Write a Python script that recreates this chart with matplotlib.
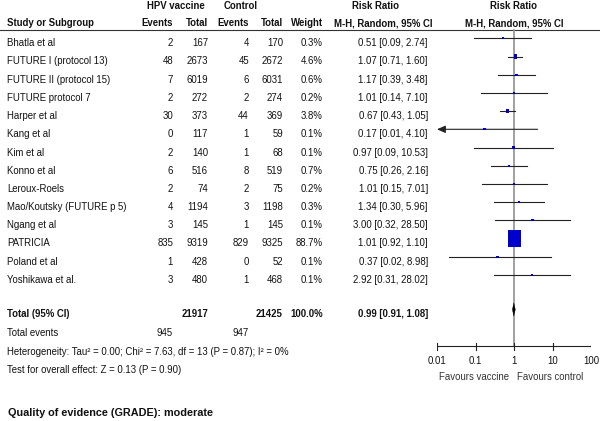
import numpy as np
import matplotlib
matplotlib.use("Agg")
import matplotlib.pyplot as plt
from matplotlib.patches import Rectangle, Polygon

plt.rcParams["font.family"] = ["Liberation Sans", "DejaVu Sans"]

studies = [
    "Bhatla et al", "FUTURE I (protocol 13)", "FUTURE II (protocol 15)",
    "FUTURE protocol 7", "Harper et al", "Kang et al", "Kim et al",
    "Konno et al", "Leroux-Roels", "Mao/Koutsky (FUTURE p 5)", "Ngang et al",
    "PATRICIA", "Poland et al", "Yoshikawa et al.",
]
vac_events = [2, 48, 7, 2, 30, 0, 2, 6, 2, 4, 3, 835, 1, 3]
vac_total = [167, 2673, 6019, 272, 373, 117, 140, 516, 74, 1194, 145, 9319, 428, 480]
ctl_events = [4, 45, 6, 2, 44, 1, 1, 8, 2, 3, 1, 829, 0, 1]
ctl_total = [170, 2672, 6031, 274, 369, 59, 68, 519, 75, 1198, 145, 9325, 52, 468]
weights = [0.3, 4.6, 0.6, 0.2, 3.8, 0.1, 0.1, 0.7, 0.2, 0.3, 0.1, 88.7, 0.1, 0.1]
rr = [0.51, 1.07, 1.17, 1.01, 0.67, 0.17, 0.97, 0.75, 1.01, 1.34, 3.00, 1.01, 0.37, 2.92]
rr_lo = [0.09, 0.71, 0.39, 0.14, 0.43, 0.01, 0.09, 0.26, 0.15, 0.30, 0.32, 0.92, 0.02, 0.31]
rr_hi = [2.74, 1.60, 3.48, 7.10, 1.05, 4.10, 10.53, 2.16, 7.01, 5.96, 28.50, 1.10, 8.98, 28.02]

total_vac, total_ctl = 21917, 21425
total_weight = 100.0
events_vac, events_ctl = 945, 947
pooled, pooled_lo, pooled_hi = 0.99, 0.91, 1.08
ticks = [0.01, 0.1, 1, 10, 100]
tick_labels = ["0.01", "0.1", "1", "10", "100"]

W, H = 600, 421
fig = plt.figure(figsize=(6, 4.21), dpi=100)
ax = fig.add_axes([0, 0, 1, 1])
ax.set_xlim(0, W)
ax.set_ylim(H, 0)
ax.axis("off")

# forest panel, log scale, shares the pixel y axis
x0, x1 = 437, 591
fax = fig.add_axes([x0 / W, 0, (x1 - x0) / W, 1])
fax.set_xscale("log")
fax.set_xlim(0.01, 100)
fax.set_ylim(H, 0)
fax.axis("off")
dec = (x1 - x0) / 4.0  # px per decade

fs = 6.9
tc = "#111111"
col_ev1, col_tot1, col_ev2, col_tot2, col_w, col_rr = 173, 208, 249, 283, 323, 428

# headers
ax.text(176, 6, "HPV vaccine", ha="center", va="center", fontsize=fs, weight="bold", color=tc)
ax.text(241, 6, "Control", ha="center", va="center", fontsize=fs, weight="bold", color=tc)
ax.text(376, 6, "Risk Ratio", ha="center", va="center", fontsize=fs, weight="bold", color=tc)
ax.text(514, 6, "Risk Ratio", ha="center", va="center", fontsize=fs, weight="bold", color=tc)
hy = 23
ax.text(7, hy, "Study or Subgroup", ha="left", va="center", fontsize=fs, weight="bold", color=tc)
for x, s in [(col_ev1, "Events"), (col_tot1, "Total"), (col_ev2, "Events"),
             (col_tot2, "Total"), (col_w, "Weight")]:
    ax.text(x, hy, s, ha="right", va="center", fontsize=fs, weight="bold", color=tc)
ax.text(383, hy, "M-H, Random, 95% CI", ha="center", va="center", fontsize=fs, weight="bold", color=tc)
ax.text(514, hy, "M-H, Random, 95% CI", ha="center", va="center", fontsize=fs, weight="bold", color=tc)
ax.plot([0, W], [29.5, 29.5], color="#333333", lw=0.8)

# null line
fax.plot([1, 1], [29.5, 346], color="#999999", lw=1.3, zorder=1)

row_y = 43.3 + 18.2 * np.arange(len(studies))
mark_dy = -5
for i, name in enumerate(studies):
    y = row_y[i]
    ax.text(7, y, name, ha="left", va="center", fontsize=fs, color=tc)
    ax.text(col_ev1, y, str(vac_events[i]), ha="right", va="center", fontsize=fs, color=tc)
    ax.text(col_tot1, y, str(vac_total[i]), ha="right", va="center", fontsize=fs, color=tc)
    ax.text(col_ev2, y, str(ctl_events[i]), ha="right", va="center", fontsize=fs, color=tc)
    ax.text(col_tot2, y, str(ctl_total[i]), ha="right", va="center", fontsize=fs, color=tc)
    ax.text(col_w, y, f"{weights[i]:.1f}%", ha="right", va="center", fontsize=fs, color=tc)
    ax.text(col_rr, y, f"{rr[i]:.2f} [{rr_lo[i]:.2f}, {rr_hi[i]:.2f}]",
            ha="right", va="center", fontsize=fs, color=tc)

    my = y + mark_dy
    if rr_lo[i] <= 0.01:
        fax.annotate("", xy=(0.01, my), xytext=(rr_hi[i], my), annotation_clip=False,
                     arrowprops=dict(arrowstyle="-|>,head_length=0.5,head_width=0.22",
                                     color="#222222", lw=0.8, shrinkA=0, shrinkB=0))
    else:
        fax.plot([rr_lo[i], rr_hi[i]], [my, my], color="#222222", lw=0.8, zorder=2)
    wpx = max(2.3, 1.38 * np.sqrt(weights[i]))
    hpx = max(2.3, 1.91 * np.sqrt(weights[i]))
    left = rr[i] * 10 ** (-wpx / 2 / dec)
    right = rr[i] * 10 ** (wpx / 2 / dec)
    fax.add_patch(Rectangle((left, my - hpx / 2), right - left, hpx,
                            facecolor="#0000CC", edgecolor="none", zorder=3))

# total row
ty = 314
ax.text(7, ty, "Total (95% CI)", ha="left", va="center", fontsize=fs, weight="bold", color=tc)
ax.text(col_tot1, ty, str(total_vac), ha="right", va="center", fontsize=fs, weight="bold", color=tc)
ax.text(col_tot2, ty, str(total_ctl), ha="right", va="center", fontsize=fs, weight="bold", color=tc)
ax.text(col_w, ty, f"{total_weight:.1f}%", ha="right", va="center", fontsize=fs, weight="bold", color=tc)
ax.text(col_rr, ty, f"{pooled:.2f} [{pooled_lo:.2f}, {pooled_hi:.2f}]",
        ha="right", va="center", fontsize=fs, weight="bold", color=tc)
dy = ty - 4.5
fax.add_patch(Polygon([(pooled_lo, dy), (pooled, dy - 6.5), (pooled_hi, dy), (pooled, dy + 6.5)],
                      closed=True, facecolor="black", edgecolor="black", lw=0.3, zorder=4))

ax.text(7, 333, "Total events", ha="left", va="center", fontsize=fs, color=tc)
ax.text(col_ev1, 333, str(events_vac), ha="right", va="center", fontsize=fs, color=tc)
ax.text(col_ev2, 333, str(events_ctl), ha="right", va="center", fontsize=fs, color=tc)
ax.text(7, 352, "Heterogeneity: Tau\u00b2 = 0.00; Chi\u00b2 = 7.63, df = 13 (P = 0.87); I\u00b2 = 0%",
        ha="left", va="center", fontsize=fs, color=tc)
ax.text(7, 370, "Test for overall effect: Z = 0.13 (P = 0.90)",
        ha="left", va="center", fontsize=fs, color=tc)

# x axis of the forest panel
axis_y = 346
fax.plot([0.01, 100], [axis_y, axis_y], color="#222222", lw=0.8)
for t, lab in zip(ticks, tick_labels):
    fax.plot([t, t], [axis_y - 3.5, axis_y + 3.5], color="#222222", lw=0.8)
    fax.text(t, 361, lab, ha="center", va="center", fontsize=fs, color=tc)
ax.text(509, 377, "Favours vaccine", ha="right", va="center", fontsize=fs, color="#333333")
ax.text(517, 377, "Favours control", ha="left", va="center", fontsize=fs, color="#333333")

ax.text(8, 413, "Quality of evidence (GRADE): moderate", ha="left", va="center",
        fontsize=7.8, weight="bold", color=tc)

fig.savefig("out.png", dpi=100)
